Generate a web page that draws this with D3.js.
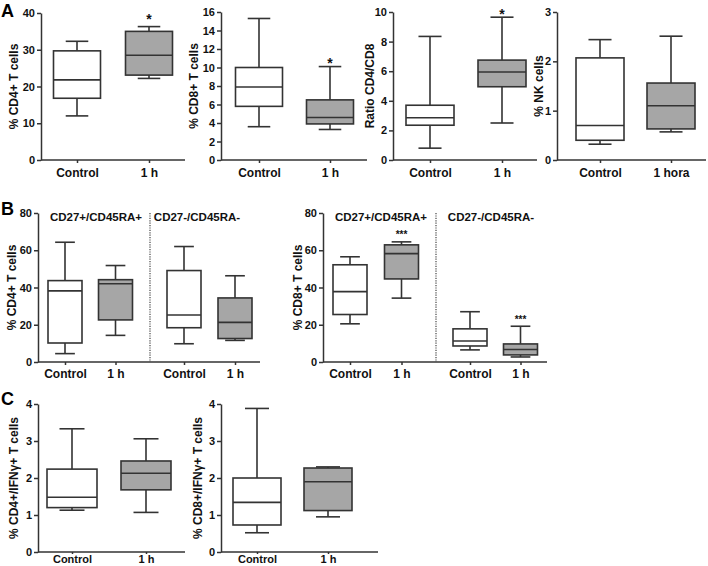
<!DOCTYPE html>
<html><head><meta charset="utf-8">
<script src="https://cdn.jsdelivr.net/npm/d3@7"></script>
<style>
body{margin:0;background:#fff;}
svg{display:block;font-family:"Liberation Sans",Arial,sans-serif;font-weight:bold;}
</style></head>
<body><svg id="c" width="708" height="566"></svg>
<script>
// ---------- DATA (box stats: [min, Q1, median, Q3, max]) ----------
const groupsH = ["Control", "1 h"];
const groupsHora = ["Control", "1 hora"];
const groupsB = ["Control", "1 h", "Control", "1 h"];
const subsetTitles = ["CD27+/CD45RA+", "CD27-/CD45RA-"];

const cd4T   = [[12, 16.8, 21.8, 29.7, 32.3], [22.2, 23.1, 28.5, 35.0, 36.3]];
const cd8T   = [[3.6, 5.8, 7.9, 10.0, 15.3], [3.3, 3.9, 4.6, 6.5, 10.1]];
const ratio  = [[0.8, 2.35, 2.85, 3.7, 8.35], [2.5, 4.95, 5.95, 6.75, 9.65]];
const nk     = [[0.32, 0.4, 0.7, 2.07, 2.44], [0.57, 0.63, 1.1, 1.56, 2.51]];
const cd4Sub = [[4.5, 10.2, 38.2, 43.7, 64.3], [14.3, 22.6, 42.0, 44.2, 51.8],
                [9.8, 18.4, 25.2, 49.1, 62.0], [11.6, 12.6, 21.3, 34.4, 46.3]];
const cd8Sub = [[20.5, 25.5, 37.8, 52.2, 56.5], [34.3, 44.6, 58.2, 62.9, 64.5],
                [6.5, 8.6, 11.3, 17.8, 27.0], [2.7, 3.8, 6.7, 9.7, 19.2]];
const cd4Ifn = [[1.13, 1.2, 1.48, 2.24, 3.33], [1.07, 1.68, 2.13, 2.46, 3.06]];
const cd8Ifn = [[0.52, 0.73, 1.34, 2.0, 3.88], [0.95, 1.12, 1.9, 2.27, 2.3]];

// significance marks: [group index, label, y-value of mark centre]
const sigCd4 = [[1, "*", 39.3]];
const sigCd8 = [[1, "*", 10.8]];
const sigRatio = [[1, "*", 10.1]];
const sigCd8Sub = [[1, "***", 69.3], [3, "***", 24.1]];

const ticks40 = [0, 10, 20, 30, 40];
const ticks16 = [0, 2, 4, 6, 8, 10, 12, 14, 16];
const ticks10 = [0, 2, 4, 6, 8, 10];
const ticks3 = [0, 1, 2, 3];
const ticks80 = [0, 20, 40, 60, 80];
const ticks4 = [0, 1, 2, 3, 4];

const fills = ["#ffffff", "#a6a6a6"];

// ---------- LAYOUT ----------
const panels = [
  {data: cd4T, cats: groupsH, ticks: ticks40, label: "% CD4+ T cells", sig: sigCd4,
   ax: 41, xEnd: 185, yTop: 13, y0: 160, centers: [77, 149], bw: 47, cap: 0.48, lx: 14, xp: 5, xf: 12, xt: 3},
  {data: cd8T, cats: groupsH, ticks: ticks16, label: "% CD8+ T cells", sig: sigCd8,
   ax: 221, xEnd: 367, yTop: 12, y0: 160, centers: [259, 330], bw: 47, cap: 0.48, lx: 194, xp: 5, xf: 12, xt: 3},
  {data: ratio, cats: groupsH, ticks: ticks10, label: "Ratio CD4/CD8", sig: sigRatio,
   ax: 393, xEnd: 537, yTop: 12, y0: 160, centers: [430, 502], bw: 48, cap: 0.48, lx: 370, xp: 5, xf: 12, xt: 3},
  {data: nk, cats: groupsHora, ticks: ticks3, label: "% NK cells", sig: [],
   ax: 557, xEnd: 706, yTop: 12, y0: 160, centers: [600, 671], bw: 48, cap: 0.48, lx: 539, xp: 5, xf: 12, xt: 3},
  {data: cd4Sub, cats: groupsB, ticks: ticks80, label: "% CD4+ T cells", sig: [],
   ax: 38, xEnd: 260, yTop: 213, y0: 362, centers: [65, 115.5, 184, 235], bw: 34, cap: 0.58, lx: 12, xp: 4, xf: 12, xt: 3,
   sep: 150, titles: [96, 197]},
  {data: cd8Sub, cats: groupsB, ticks: ticks80, label: "% CD8+ T cells", sig: sigCd8Sub,
   ax: 323, xEnd: 547, yTop: 213, y0: 362, centers: [350, 401.5, 470, 520.5], bw: 34, cap: 0.58, lx: 298, xp: 4, xf: 12, xt: 3,
   sep: 436, titles: [381, 491]},
  {data: cd4Ifn, cats: groupsH, ticks: ticks4, label: "% CD4+/IFNγ+ T cells", sig: [],
   ax: 38, xEnd: 185, yTop: 404, y0: 552, centers: [72, 146], bw: 50, cap: 0.5, lx: 14, xp: 1.5, xf: 11, xt: 2},
  {data: cd8Ifn, cats: groupsH, ticks: ticks4, label: "% CD8+/IFNγ+ T cells", sig: [],
   ax: 221, xEnd: 378, yTop: 404, y0: 552, centers: [257, 328], bw: 48, cap: 0.5, lx: 198, xp: 1.5, xf: 11, xt: 2}
];

const svg = d3.select("#c");
const ink = "#333";

panels.forEach(p => {
  const g = svg.append("g");
  const y = d3.scaleLinear().domain([0, d3.max(p.ticks)]).range([p.y0, p.yTop]);
  const keys = p.cats.map((c, i) => i);
  const x = d3.scaleOrdinal().domain(keys).range(p.centers);

  // y axis
  const ya = g.append("g").attr("transform", `translate(${p.ax},0)`)
    .call(d3.axisLeft(y).tickValues(p.ticks).tickSize(4).tickSizeOuter(0).tickPadding(2).tickFormat(d3.format("d")));
  ya.select(".domain").attr("stroke", ink).attr("stroke-width", 1.5);
  ya.selectAll(".tick line").attr("stroke", ink).attr("stroke-width", 1.5);
  ya.selectAll(".tick text").attr("fill", "#111").style("font-size", "11px").style("font-weight", "bold")
    .style("font-family", "'Liberation Sans',Arial,sans-serif");

  // x axis baseline
  g.append("line").attr("x1", p.ax).attr("x2", p.xEnd).attr("y1", p.y0).attr("y2", p.y0)
    .attr("stroke", ink).attr("stroke-width", 1.5);
  const xa = g.append("g").attr("transform", `translate(0,${p.y0})`)
    .call(d3.axisBottom(x).tickSize(p.xt).tickSizeOuter(0).tickPadding(p.xp).tickFormat(i => p.cats[i]));
  xa.select(".domain").remove();
  xa.selectAll(".tick line").attr("stroke", ink).attr("stroke-width", 1.5);
  xa.selectAll(".tick text").attr("fill", "#111").style("font-size", p.xf + "px").style("font-weight", "bold")
    .style("font-family", "'Liberation Sans',Arial,sans-serif");

  // y label
  const cy = (p.yTop + p.y0) / 2;
  g.append("text").attr("transform", `translate(${p.lx},${cy}) rotate(-90)`)
    .attr("text-anchor", "middle").attr("dy", "0.35em").attr("fill", "#111")
    .style("font-size", "12px").text(p.label);

  // separator & titles
  if (p.sep) {
    g.append("line").attr("x1", p.sep).attr("x2", p.sep).attr("y1", p.yTop).attr("y2", p.y0)
      .attr("stroke", "#444").attr("stroke-width", 1.2).attr("stroke-dasharray", "1.2,1.2");
    subsetTitles.forEach((t, i) => {
      g.append("text").attr("x", p.titles[i]).attr("y", p.yTop + 8).attr("text-anchor", "middle")
        .attr("fill", "#111").style("font-size", "11.5px").text(t);
    });
  }

  // boxes
  const boxes = g.selectAll("g.box").data(p.data).join("g").attr("class", "box");
  boxes.each(function(d, i) {
    const b = d3.select(this);
    const cx = x(i), hw = p.bw / 2, cw = p.bw * p.cap / 2;
    const [lo, q1, med, q3, hi] = d;
    const st = s => s.attr("stroke", ink).attr("stroke-width", 1.6);
    st(b.append("line").attr("x1", cx).attr("x2", cx).attr("y1", y(lo)).attr("y2", y(q1)));
    st(b.append("line").attr("x1", cx).attr("x2", cx).attr("y1", y(q3)).attr("y2", y(hi)));
    st(b.append("line").attr("x1", cx - cw).attr("x2", cx + cw).attr("y1", y(lo)).attr("y2", y(lo)));
    st(b.append("line").attr("x1", cx - cw).attr("x2", cx + cw).attr("y1", y(hi)).attr("y2", y(hi)));
    st(b.append("rect").attr("x", cx - hw).attr("width", p.bw).attr("y", y(q3)).attr("height", y(q1) - y(q3))
      .attr("fill", fills[i % 2]));
    st(b.append("line").attr("x1", cx - hw).attr("x2", cx + hw).attr("y1", y(med)).attr("y2", y(med)));
  });

  // significance
  p.sig.forEach(([gi, lab, v]) => {
    const small = lab.length > 1;
    g.append("text").attr("x", x(gi)).attr("y", y(v) + (small ? 5.5 : 8)).attr("text-anchor", "middle")
      .attr("fill", "#111").style("font-size", small ? "10px" : "14px").text(lab);
  });
});

// panel letters
[["A", 1, 16.5], ["B", 1, 215], ["C", 1, 405]].forEach(([t, px, py]) => {
  svg.append("text").attr("x", px).attr("y", py).attr("fill", "#000").style("font-size", "18px").text(t);
});
</script></body></html>
